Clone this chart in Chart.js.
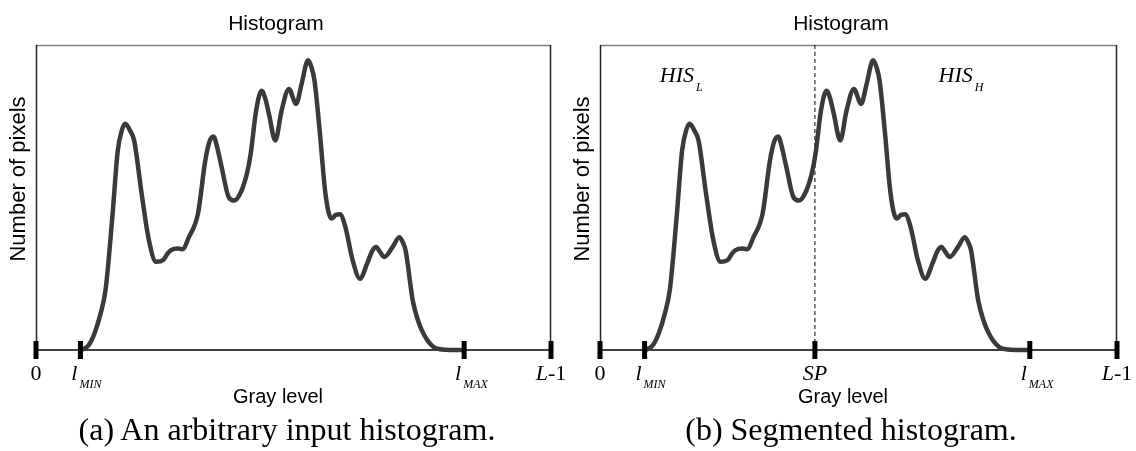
<!DOCTYPE html>
<html><head><meta charset="utf-8">
<script src="https://cdn.jsdelivr.net/npm/chart.js@4.4.1/dist/chart.umd.min.js"></script>
<style>
html,body{margin:0;padding:0;background:#fff;width:1136px;height:451px;overflow:hidden}
.panel{position:absolute;top:0;width:568px;height:451px}
.cap{position:absolute;font-family:"Liberation Serif","Times New Roman",serif;font-size:32px;line-height:32px;color:#000;white-space:nowrap;transform:translateX(-50%)}
</style></head><body>
<div class="panel" style="left:0"><canvas id="c1"></canvas></div>
<div class="panel" style="left:568px"><canvas id="c2"></canvas></div>
<div class="cap" style="left:287px;top:413px">(a) An arbitrary input histogram.</div>
<div class="cap" style="left:851px;top:413px">(b) Segmented histogram.</div>
<script>
// ---- data (gray level vs. number of pixels, y scaled 0..100 of the frame height) ----
const grayLevels = [22.5,26,29,32,34.5,37.8,40.5,42.5,44.2,46.5,48.6,52.3,55.9,59.5,63,65,66.7,70.3,72.5,75.7,80.2,83.8,86,87.9,89.5,91.9,95.5,98.2,101.8,104.5,106.3,109,111.7,113.5,115.3,118.5,121.6,125.2,128.8,131.5,134.7,136.5,137.9,140.6,143.3,146.3,148.5,150.5,153.2,156.8,160.4,164,166.5,168.4,170.5,172.5,176.6,179.9,181.5,183,186.5,189,191,194,198.2,205,212];
const pixelCounts = [0,1.5,5.5,12,20,43.6,65.4,72,74.2,72,68.7,51.3,36,28.9,29.5,31.5,32.7,33.3,33,37,44.7,62,68.5,70,67,60,50,49,52.3,58,64.3,78.5,85,82.5,77.5,68.7,78.5,85.6,80.7,87.2,95,92.5,88.3,70.9,51.3,43.1,44.3,44.5,40.3,29.4,23.4,28.4,32.5,33.8,32,30.5,33.8,37,35.5,32.7,16.4,10,6.5,3,0.5,0,0];
const grayMax = 255;
const countMax = 100;
const lMin = 22, splitPoint = 106, lMax = 212;
const ticksA = [0, lMin, lMax, grayMax];
const ticksB = [0, lMin, splitPoint, lMax, grayMax];
// tick label parts: italic text, upright text, subscript
const tickItalicA = ['', 'l', 'l', 'L'];
const tickUprightA = ['0', '', '', '-1'];
const tickSubA = ['', 'MIN', 'MAX', ''];
const tickItalicB = ['', 'l', 'SP', 'l', 'L'];
const tickUprightB = ['0', '', '', '', '-1'];
const tickSubB = ['', 'MIN', '', 'MAX', ''];
const titleText = 'Histogram';
const xTitle = 'Gray level';
const yTitle = 'Number of pixels';
const regionLabels = [{text:'HIS', sub:'L', x:29.5}, {text:'HIS', sub:'H', x:167}];

const SANS = '"Liberation Sans", Arial, sans-serif';
const SERIF = '"Liberation Serif", "Times New Roman", serif';

function curvePoints(){ return grayLevels.map((g,i)=>({x:g, y:pixelCounts[i]})); }

function drawTickLabel(ctx, x, y, it, up, sub){
  ctx.textBaseline = 'alphabetic';
  ctx.textAlign = 'left';
  const fMain = '22px ' + SERIF, fIt = 'italic 22px ' + SERIF, fSub = 'italic 12px ' + SERIF;
  ctx.font = fIt; const wI = ctx.measureText(it).width;
  ctx.font = fMain; const wU = ctx.measureText(up).width;
  let x0;
  if (sub) x0 = x - wI - 3; else x0 = x - (wI + wU)/2;
  ctx.fillStyle = '#000';
  ctx.font = fIt; ctx.fillText(it, x0, y);
  ctx.font = fMain; ctx.fillText(up, x0 + wI, y);
  ctx.font = fSub; ctx.fillText(sub, x0 + wI + 2, y + 8);
}

function makeChart(id, ticks, tIt, tUp, tSub, segmented, pad, titleX, xTitleX){
  const datasets = [{
    data: curvePoints(), borderColor: '#3a3a3a', borderWidth: 4.5, pointRadius: 0,
    cubicInterpolationMode: 'monotone', fill: false, clip: 12, order: 2
  },{
    type: 'scatter', data: ticks.map(t=>({x:t, y:0})), pointStyle: 'line', rotation: 90,
    pointRadius: 9, borderColor: '#000', borderWidth: 5, clip: 20, order: 1
  }];
  if (segmented) datasets.push({
    data: [{x:splitPoint, y:0},{x:splitPoint, y:countMax}], borderColor:'#000', borderWidth:1,
    borderDash:[4,3], pointRadius:0, order:3
  });
  const framePlugin = {
    id: 'frame',
    beforeDatasetsDraw(chart){
      const {ctx, chartArea:a} = chart;
      ctx.save();
      ctx.lineWidth = 1.5;
      ctx.strokeStyle = '#808080';
      ctx.beginPath(); ctx.moveTo(a.left, a.top+0.5); ctx.lineTo(a.right, a.top+0.5); ctx.stroke();
      ctx.strokeStyle = '#222';
      ctx.beginPath(); ctx.moveTo(a.left+0.5, a.top); ctx.lineTo(a.left+0.5, a.bottom); ctx.stroke();
      ctx.beginPath(); ctx.moveTo(a.right-0.5, a.top); ctx.lineTo(a.right-0.5, a.bottom); ctx.stroke();
      ctx.strokeStyle = '#000'; ctx.lineWidth = 1.5;
      ctx.beginPath(); ctx.moveTo(a.left, a.bottom); ctx.lineTo(a.right, a.bottom); ctx.stroke();
      ctx.restore();
    },
    afterDraw(chart){
      const {ctx, chartArea:a, scales} = chart;
      ctx.save();
      ticks.forEach((t,i)=>{
        drawTickLabel(ctx, scales.x.getPixelForValue(t), a.bottom + 30, tIt[i], tUp[i], tSub[i]);
      });
      ctx.fillStyle = '#000';
      ctx.font = '21px ' + SANS; ctx.textAlign = 'center'; ctx.textBaseline = 'alphabetic';
      ctx.fillText(titleText, titleX, 30);
      ctx.font = '20px ' + SANS;
      ctx.fillText(xTitle, xTitleX, 403);
      ctx.save();
      ctx.font = '22px ' + SANS;
      ctx.translate(a.left - 11, 179);
      ctx.rotate(-Math.PI/2);
      ctx.fillText(yTitle, 0, 0);
      ctx.restore();
      if (segmented) {
        regionLabels.forEach(r=>{
          const x = scales.x.getPixelForValue(r.x);
          ctx.textAlign = 'left';
          ctx.font = 'italic 22px ' + SERIF; ctx.fillText(r.text, x, 82);
          const w = ctx.measureText(r.text).width;
          ctx.font = 'italic 12px ' + SERIF; ctx.fillText(r.sub, x + w + 2, 91);
        });
      }
      ctx.restore();
    }
  };
  return new Chart(document.getElementById(id), {
    type: 'line',
    data: { datasets },
    options: {
      responsive: true, maintainAspectRatio: false, animation: false,
      layout: { padding: pad },
      plugins: { legend: {display:false}, tooltip: {enabled:false}, title:{display:false} },
      scales: {
        x: { type:'linear', min:0, max:grayMax, display:false },
        y: { type:'linear', min:0, max:countMax, display:false }
      }
    },
    plugins: [framePlugin]
  });
}

makeChart('c1', ticksA, tickItalicA, tickUprightA, tickSubA, false, {left:36, right:17, top:45, bottom:101}, 276, 278);
makeChart('c2', ticksB, tickItalicB, tickUprightB, tickSubB, true, {left:32, right:19, top:45, bottom:101}, 273, 275);
</script>
</body></html>
